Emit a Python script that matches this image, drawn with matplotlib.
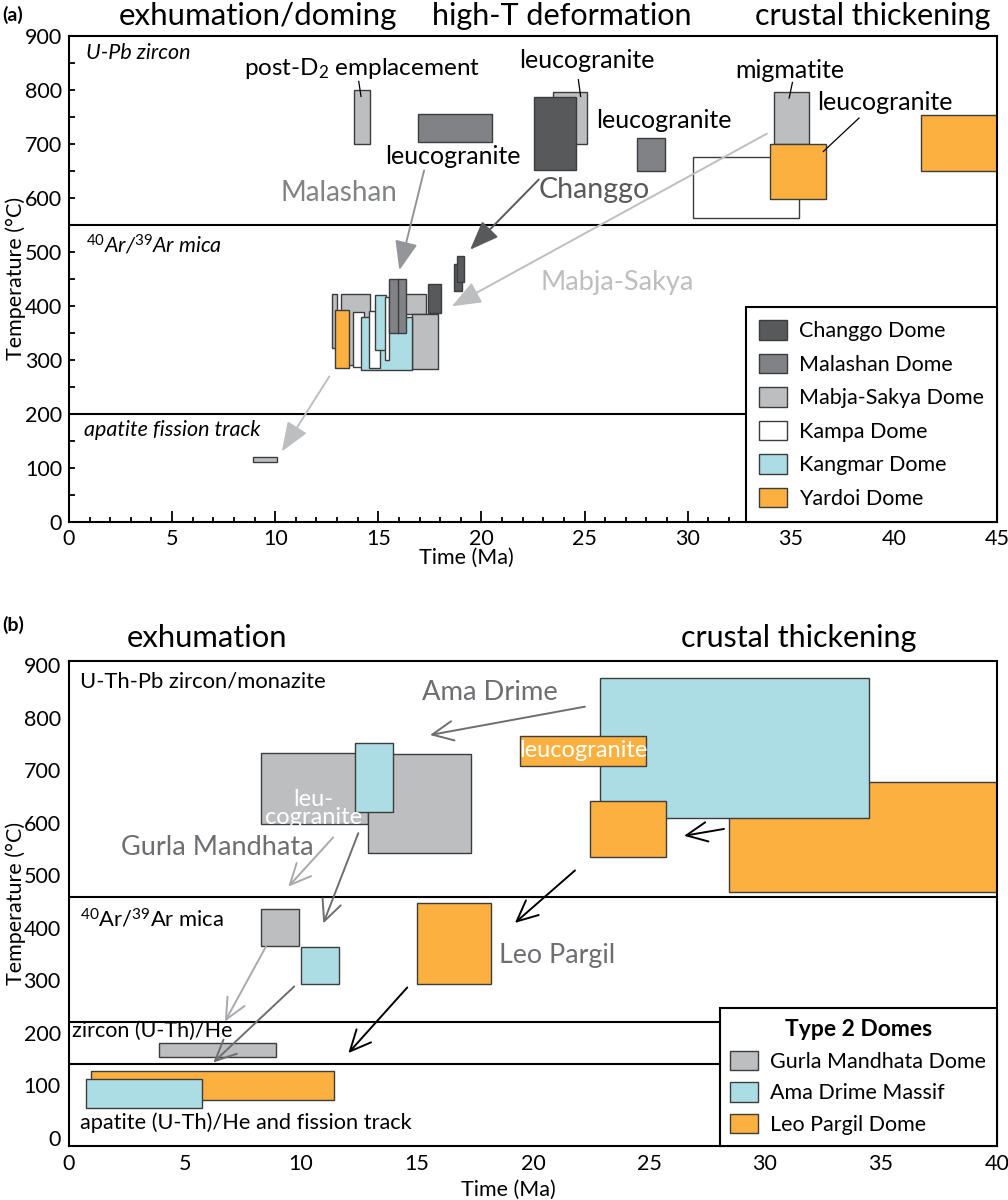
import matplotlib
matplotlib.use("Agg")
import matplotlib.pyplot as plt
from matplotlib.patches import Patch

plt.rcParams["font.family"] = ["Lato", "DejaVu Sans"]
plt.rcParams["mathtext.fontset"] = "custom"
plt.rcParams["mathtext.rm"] = "Lato"
plt.rcParams["mathtext.it"] = "Lato:italic"

# ---- panel (a): Type 1 domes ----
a_names = ["Changgo Dome", "Malashan Dome", "Mabja-Sakya Dome",
           "Kampa Dome", "Kangmar Dome", "Yardoi Dome"]
a_colors = ["#58595b", "#808285", "#bcbec0", "#ffffff", "#acdde4", "#fbb040"]

# one box per age/temperature estimate (time Ma, temperature C)
a_dome = ["Mabja-Sakya Dome", "Malashan Dome", "Mabja-Sakya Dome", "Changgo Dome",
          "Malashan Dome", "Kampa Dome", "Mabja-Sakya Dome", "Yardoi Dome", "Yardoi Dome",
          "Mabja-Sakya Dome", "Mabja-Sakya Dome", "Mabja-Sakya Dome", "Mabja-Sakya Dome",
          "Yardoi Dome", "Kampa Dome", "Kangmar Dome", "Kampa Dome", "Kangmar Dome",
          "Kampa Dome", "Malashan Dome", "Malashan Dome", "Changgo Dome",
          "Changgo Dome", "Changgo Dome", "Mabja-Sakya Dome"]
a_t0 = [13.8, 16.9, 23.45, 22.55, 27.55, 30.25, 34.2, 34.0, 41.3,
        16.25, 16.65, 13.2, 12.75, 12.9, 13.75, 14.15, 14.55, 14.85,
        15.3, 15.5, 15.95, 17.4, 18.65, 18.8, 8.9]
a_t1 = [14.6, 20.5, 25.1, 24.6, 28.9, 35.4, 35.9, 36.7, 45.0,
        17.3, 17.9, 14.6, 13.0, 13.6, 14.3, 16.65, 15.1, 15.35,
        15.5, 16.0, 16.35, 18.05, 19.05, 19.15, 10.1]
a_T0 = [700, 703, 700, 652, 650, 562, 700, 598, 650,
        385, 283, 290, 322, 285, 286, 281, 285, 319,
        300, 350, 350, 387, 428, 444, 110]
a_T1 = [800, 756, 797, 787, 711, 676, 797, 700, 753,
        422, 385, 422, 422, 392, 388, 380, 390, 421,
        417, 450, 450, 441, 478, 493, 119]
a_bounds = [550, 200]

# ---- panel (b): Type 2 domes ----
b_names = ["Gurla Mandhata Dome", "Ama Drime Massif", "Leo Pargil Dome"]
b_colors = ["#bcbec0", "#acdde4", "#fbb040"]
b_dome = ["Gurla Mandhata Dome", "Gurla Mandhata Dome", "Ama Drime Massif",
          "Leo Pargil Dome", "Ama Drime Massif", "Leo Pargil Dome", "Leo Pargil Dome",
          "Gurla Mandhata Dome", "Ama Drime Massif", "Leo Pargil Dome",
          "Gurla Mandhata Dome", "Leo Pargil Dome", "Ama Drime Massif"]
b_t0 = [8.28, 12.87, 12.34, 28.45, 22.9, 19.44, 22.44, 8.28, 10.01, 15.01, 3.88, 0.95, 0.73]
b_t1 = [12.87, 17.33, 13.98, 40.0, 34.5, 24.87, 25.72, 9.91, 11.65, 18.17, 8.94, 11.42, 5.75]
b_T0 = [597, 543, 620, 467, 608, 708, 535, 365, 293, 293, 154, 72, 57]
b_T1 = [732, 731, 751, 678, 876, 765, 641, 435, 364, 446, 180, 127, 112]
b_bounds = [459, 221, 140]

EDGE = "#3c3c3e"
W, H = 1008, 1200


def draw_boxes(ax, dome, t0, t1, T0, T1, names, colors):
    col = dict(zip(names, colors))
    for d, x0, x1, y0, y1 in zip(dome, t0, t1, T0, T1):
        ax.bar(x0, y1 - y0, width=x1 - x0, bottom=y0, align="edge",
               color=col[d], edgecolor=EDGE, linewidth=1.0, zorder=2)


def arrow(ax, xy_from, xy_to, color, style):
    ax.annotate("", xy=xy_to, xytext=xy_from,
                arrowprops=dict(arrowstyle=style, color=color, lw=1.4,
                                mutation_scale=20, shrinkA=0, shrinkB=0),
                zorder=4)


def leader(ax, p0, p1):
    ax.plot([p0[0], p1[0]], [p0[1], p1[1]], color="black", lw=0.9, zorder=4)


fig = plt.figure(figsize=(W / 100, H / 100), dpi=100)

# ================= (a) =================
ax = fig.add_axes([69 / W, 1 - 521.7 / H, 928 / W, 485.7 / H])
draw_boxes(ax, a_dome, a_t0, a_t1, a_T0, a_T1, a_names, a_colors)
for b in a_bounds:
    ax.axhline(b, color="black", lw=1.5, zorder=1)
ax.set_xlim(0, 45)
ax.set_ylim(0, 900)
ax.set_xticks(range(0, 46, 5))
ax.set_xticks(range(0, 46), minor=True)
ax.set_yticks(range(0, 901, 100))
ax.set_yticks(range(50, 900, 100), minor=True)
ax.tick_params(direction="in", labelsize=15.5, width=1.3, pad=5)
ax.tick_params(axis="x", which="major", length=8)
ax.tick_params(axis="x", which="minor", length=3.5, width=1.3, direction="in")
ax.tick_params(axis="y", which="both", length=4, width=1.3, direction="in")
for s in ax.spines.values():
    s.set_linewidth(1.5)
ax.set_ylabel("Temperature (°C)", fontsize=15.5)
ax.yaxis.set_label_coords(-0.046, 0.5)
ax.set_xlabel("Time (Ma)", fontsize=15.5)
ax.xaxis.set_label_coords(0.428, -0.054)

ax.text(0.82, 869, "U-Pb zircon", fontsize=15.5, style="italic", va="center")
ax.text(0.82, 513, r"$^{40}$Ar/$^{39}$Ar mica", fontsize=15.5, style="italic", va="center")
ax.text(0.73, 170, "apatite fission track", fontsize=15.5, style="italic", va="center")
ax.text(14.2, 840, r"post-D$_2$ emplacement", fontsize=17.5, ha="center", va="center")
ax.text(18.62, 676, "leucogranite", fontsize=18, ha="center", va="center")
ax.text(25.12, 855, "leucogranite", fontsize=18, ha="center", va="center")
ax.text(28.86, 743, "leucogranite", fontsize=18, ha="center", va="center")
ax.text(34.97, 836, "migmatite", fontsize=18, ha="center", va="center")
ax.text(39.57, 777, "leucogranite", fontsize=18, ha="center", va="center")
ax.text(13.08, 610, "Malashan", fontsize=20, color="#808285", ha="center", va="center")
ax.text(25.48, 615, "Changgo", fontsize=20.5, color="#58595b", ha="center", va="center")
ax.text(26.6, 443, "Mabja-Sakya", fontsize=19.5, color="#bcbec0", ha="center", va="center")

leader(ax, (14.05, 816), (14.16, 788))
leader(ax, (24.7, 819), (24.81, 788))
leader(ax, (35.08, 814), (34.92, 785))
leader(ax, (38.31, 748), (36.58, 686))

fstyle = "-|>,head_length=0.9,head_width=0.35"
arrow(ax, (17.22, 651), (16.02, 466), "#939598", fstyle)
arrow(ax, (22.78, 634), (19.45, 504), "#58595b", fstyle)
arrow(ax, (33.84, 719), (18.56, 399), "#bcbec0", fstyle)
arrow(ax, (12.62, 269), (10.32, 130), "#bcbec0", fstyle)

handles = [Patch(facecolor=c, edgecolor=EDGE, label=n) for n, c in zip(a_names, a_colors)]
leg = ax.legend(handles=handles, loc="lower right", fontsize=15.5, frameon=True,
                fancybox=False, borderaxespad=0, borderpad=0.6, handlelength=1.3,
                handleheight=1.0, labelspacing=0.58, handletextpad=0.55)
leg.get_frame().set_edgecolor("black")
leg.get_frame().set_linewidth(1.5)
leg.get_frame().set_alpha(1)
leg.set_zorder(5)

fig.text(2 / W, 1 - 15 / H, "(a)", fontsize=14, fontweight="bold", va="center")
fig.text(258 / W, 1 - 16 / H, "exhumation/doming", fontsize=22.5, ha="center", va="center")
fig.text(562 / W, 1 - 16 / H, "high-T deformation", fontsize=22, ha="center", va="center")
fig.text(873 / W, 1 - 16 / H, "crustal thickening", fontsize=22, ha="center", va="center")

# ================= (b) =================
bx = fig.add_axes([69 / W, 1 - 1146 / H, 928 / W, 485 / H])
draw_boxes(bx, b_dome, b_t0, b_t1, b_T0, b_T1, b_names, b_colors)
for b in b_bounds:
    bx.axhline(b, color="black", lw=1.5, zorder=1)
bx.set_xlim(0, 40)
bx.set_ylim(-16, 908)
bx.set_xticks(range(0, 41, 5))
bx.set_yticks(range(0, 901, 100))
bx.tick_params(length=0, labelsize=15.5, pad=6)
for s in bx.spines.values():
    s.set_linewidth(1.5)
bx.set_ylabel("Temperature (°C)", fontsize=15.5)
bx.yaxis.set_label_coords(-0.046, 0.5)
bx.set_xlabel("Time (Ma)", fontsize=15.5)
bx.xaxis.set_label_coords(0.473, -0.07)

bx.text(0.47, 869, "U-Th-Pb zircon/monazite", fontsize=15.8, va="center")
bx.text(0.47, 415, r"$^{40}$Ar/$^{39}$Ar mica", fontsize=15.8, va="center")
bx.text(0.13, 204, "zircon (U-Th)/He", fontsize=15.5, va="center")
bx.text(0.47, 28, "apatite (U-Th)/He and fission track", fontsize=15.7, va="center")
bx.text(18.15, 848, "Ama Drime", fontsize=19.7, color="#6d6e71", ha="center", va="center")
bx.text(6.38, 552, "Gurla Mandhata", fontsize=19.5, color="#6d6e71", ha="center", va="center")
bx.text(18.53, 346, "Leo Pargil", fontsize=19.3, color="#6d6e71", va="center")
bx.text(22.16, 737, "leucogranite", fontsize=17, color="white", ha="center", va="center",
        zorder=3)
bx.text(10.52, 627, "leu-\ncogranite", fontsize=17, color="white", ha="center",
        va="center", linespacing=0.8, zorder=3)

ostyle = "->,head_length=0.75,head_width=0.35"
arrow(bx, (22.24, 821), (15.56, 767), "#6d6e71", ostyle)
arrow(bx, (28.23, 588), (26.51, 575), "black", ostyle)
arrow(bx, (21.81, 509), (19.22, 409), "black", ostyle)
arrow(bx, (11.39, 572), (9.45, 478), "#a7a9ac", ostyle)
arrow(bx, (12.47, 580), (10.96, 408), "#6d6e71", ostyle)
arrow(bx, (8.49, 364), (6.72, 221), "#a7a9ac", ostyle)
arrow(bx, (9.71, 288), (6.22, 143), "#6d6e71", ostyle)
arrow(bx, (14.58, 286), (12.04, 161), "black", ostyle)

handles = [Patch(facecolor=c, edgecolor=EDGE, label=n) for n, c in zip(b_names, b_colors)]
leg = bx.legend(handles=handles, loc="lower right", fontsize=15.5, frameon=True,
                fancybox=False, borderaxespad=0, borderpad=0.5, handlelength=1.3,
                handleheight=1.0, labelspacing=0.5, handletextpad=0.55,
                title="Type 2 Domes", title_fontproperties={"weight": "bold", "size": 16.5})
leg.get_frame().set_edgecolor("black")
leg.get_frame().set_linewidth(1.5)
leg.get_frame().set_alpha(1)
leg.set_zorder(5)

fig.text(2 / W, 1 - 625 / H, "(b)", fontsize=14, fontweight="bold", va="center")
fig.text(207 / W, 1 - 638 / H, "exhumation", fontsize=22.3, ha="center", va="center")
fig.text(799 / W, 1 - 638 / H, "crustal thickening", fontsize=22, ha="center", va="center")

fig.savefig("out.png", dpi=100)
